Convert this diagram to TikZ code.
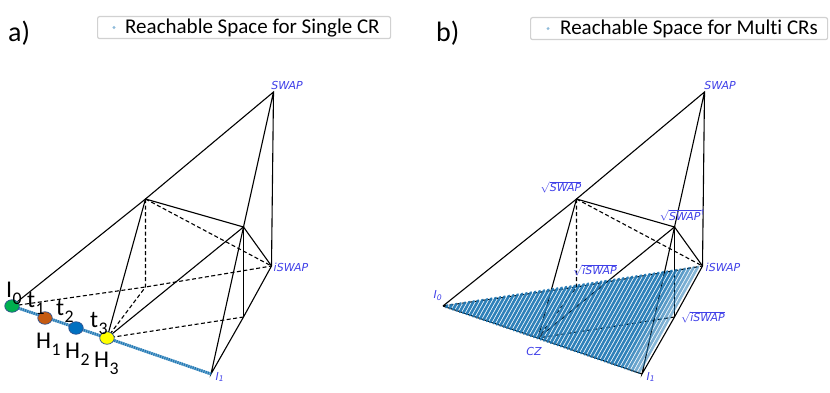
\documentclass[tikz,border=0pt]{standalone}
\usepackage{fontspec}
\setmainfont{Carlito}[Ligatures={NoCommon,NoRequired,NoContextual}]
\newfontfamily\lblfont{DejaVu Sans}
\usetikzlibrary{calc,shapes.geometric}

\definecolor{mplblue}{HTML}{1F77B4}
\definecolor{lblcol}{HTML}{4040E8}
\definecolor{dotgreen}{HTML}{00B050}
\definecolor{dotorange}{HTML}{C55A11}
\definecolor{dotblue}{HTML}{0070C0}
\definecolor{dotyellow}{HTML}{FFFF00}
\definecolor{dotline}{HTML}{2F528F}

\newcommand{\lowsub}[1]{\kern0.02em\raisebox{-0.3em}{\scalebox{0.74}{#1}}}
\newcommand{\gname}[1]{\hbox{\lblfont\itshape #1}}

\begin{document}
\begin{tikzpicture}[
    x=1pt, y=-1pt,
    edge/.style={line width=1.1pt},
    hidden/.style={line width=1.1pt, dash pattern=on 4pt off 2.5pt},
    vlbl/.style={font=\lblfont\itshape\fontsize{11}{11}\selectfont, text=lblcol, inner sep=0},
    big/.style={font=\fontsize{24}{24}\selectfont, inner sep=0, anchor=base west},
    gate/.style={ellipse, draw=dotline, line width=0.7pt, minimum width=14.5pt, minimum height=12.5pt, inner sep=0},
    legbox/.style={draw=black!18, line width=1.2pt, rounded corners=2pt, minimum height=22pt, inner sep=0, anchor=north west},
    legtext/.style={font=\fontsize{21}{21}\selectfont, inner sep=0, anchor=west},
    stripe/.style={mplblue, line width=2.6pt, line cap=round}
  ]
  \useasboundingbox (0,0) rectangle (830,393);

  % vertices of the Weyl chamber, panel a and panel b
  \foreach \p/\dx in {a/0,b/431}{
    \coordinate (\p-I0) at (12+\dx,306);
    \coordinate (\p-I1) at (211+\dx,374);
    \coordinate (\p-CZ) at (107+\dx,338);
    \coordinate (\p-iSWAP) at (271.5+\dx,266);
    \coordinate (\p-SWAP) at (273.5+\dx,92);
    \coordinate (\p-sqS) at (145.5+\dx,199);
    \coordinate (\p-sqSd) at (243.5+\dx,227);
    \coordinate (\p-sqiL) at (145.5+\dx,287);
    \coordinate (\p-sqiR) at (243.5+\dx,317);
  }

  % edges
  \foreach \p in {a,b}{
    \draw[edge] (\p-I0) -- (\p-sqS) -- (\p-SWAP) -- (\p-iSWAP) -- (\p-sqiR) -- (\p-I1) -- (\p-sqSd) -- (\p-SWAP);
    \draw[edge] (\p-CZ) -- (\p-sqS) -- (\p-sqSd) -- (\p-CZ);
    \draw[edge] (\p-sqSd) -- (\p-iSWAP);
    \draw[edge] (\p-sqSd) -- (\p-sqiR);
    \draw[edge] (\p-I0) -- (\p-CZ) -- (\p-I1);
    \draw[hidden] (\p-I0) -- (\p-sqiL) -- (\p-iSWAP);
    \draw[hidden] (\p-sqS) -- (\p-sqiL) -- (\p-CZ) -- (\p-sqiR);
    \draw[hidden] (\p-sqS) -- (\p-iSWAP);
  }

  % a) single CR: the I0--I1 line
  \draw[mplblue!65, line width=2.8pt] (a-I0) -- (a-CZ) -- (a-I1);
  \draw[mplblue, line width=2.8pt, dash pattern=on 1pt off 1.3pt] (a-I0) -- (a-CZ) -- (a-I1);

  % b) multi CRs: the base plane
  \foreach \k in {1,...,58}{
    \pgfmathsetmacro\t{\k/59}
    \pgfmathsetmacro\op{\k>52 ? 0.95-0.07*(\k-52) : 0.93}
    \draw[stripe, opacity=\op] ($(b-I0)!\t!(b-I1)$) -- ($(b-I0)!\t!(b-iSWAP)$);
  }

  % gates on the line
  \node[gate, fill=dotgreen] (h0) at (a-I0) {};
  \node[gate, fill=dotorange] (h1) at (45,318) {};
  \node[gate, fill=dotblue] (h2) at (76,328) {};
  \node[gate, fill=dotyellow] (h3) at (a-CZ) {};
  \node[big] (tI0) at (6,297) {I\lowsub{0}};
  \node[big] (tt1) at (27,307) {t\lowsub{1}};
  \node[big] (tt2) at (56,315) {t\lowsub{2}};
  \node[big] (tt3) at (90,327) {t\lowsub{3}};
  \node[big] (tH1) at (36,348) {H\lowsub{1}};
  \node[big] (tH2) at (65,358) {H\lowsub{2}};
  \node[big] (tH3) at (94,367) {H\lowsub{3}};

  % vertex labels
  \node[vlbl] (la-SWAP) at (287,85) {SWAP};
  \node[vlbl] (la-iSWAP) at (291,267) {iSWAP};
  \node[vlbl] (la-I1) at (220,377) {I\textsubscript{1}};
  \node[vlbl] (lb-SWAP) at (720,85) {SWAP};
  \node[vlbl] (lb-sqS) at (561,187) {$\sqrt{\gname{SWAP}}$};
  \node[vlbl] (lb-sqSd) at (682,215) {$\sqrt{\gname{SWAP}}$\raisebox{0.55em}{\fontsize{7}{7}\selectfont\upshape †}};
  \node[vlbl] (lb-sqiL) at (595,270) {$\sqrt{\gname{iSWAP}}$};
  \node[vlbl] (lb-sqiR) at (703,317) {$\sqrt{\gname{iSWAP}}$};
  \node[vlbl] (lb-iSWAP) at (723,267) {iSWAP};
  \node[vlbl] (lb-I1) at (651,377) {I\textsubscript{1}};
  \node[vlbl] (lb-CZ) at (534,351) {CZ};
  \node[vlbl] (lb-I0) at (438,296) {I\textsubscript{0}};

  % panel letters and legends
  \node[font=\fontsize{28}{28}\selectfont, inner sep=0, anchor=base west] (pa) at (8,42) {a)};
  \node[font=\fontsize{28}{28}\selectfont, inner sep=0, anchor=base west] (pb) at (436,42) {b)};
  \node[legbox, minimum width=293pt] (leg-a) at (97,16) {};
  \fill[mplblue!50] ($(leg-a.west)+(17,0)$) circle (1.6);
  \node[legtext] (legt-a) at ($(leg-a.west)+(28,0)$) {Reachable Space for Single CR};
  \node[legbox, minimum width=297pt] (leg-b) at (530,17) {};
  \fill[mplblue!50] ($(leg-b.west)+(18,0)$) circle (1.6);
  \node[legtext] (legt-b) at ($(leg-b.west)+(30,0)$) {Reachable Space for Multi CRs};
\end{tikzpicture}
\end{document}
